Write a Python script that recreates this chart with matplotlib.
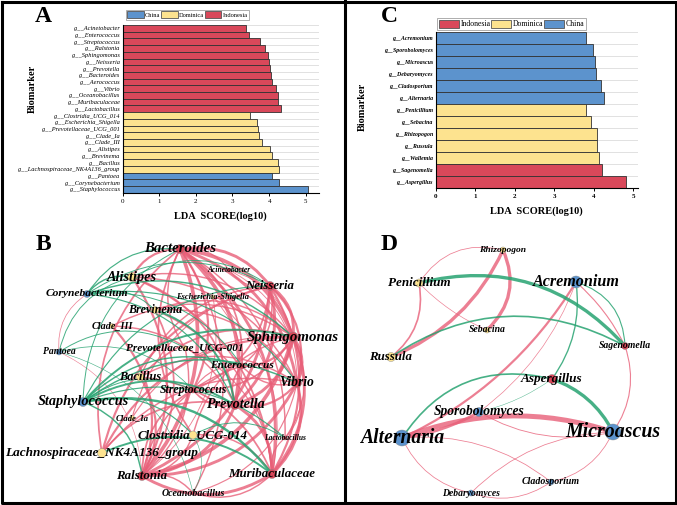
import matplotlib
matplotlib.use("Agg")
import numpy as np
import matplotlib.pyplot as plt
from matplotlib.patches import Patch, FancyArrowPatch
from matplotlib.lines import Line2D

W, H = 677, 505
RED, YEL, BLUE = "#d9485a", "#fde38f", "#5c93cd"
POS, NEG = "#e85f78", "#27a371"
GROUP_COL = {"Indonesia": RED, "Dominica": YEL, "China": BLUE}
SERIF = "Liberation Serif"

# ── Panel A: bacterial LEfSe (top to bottom) ─────────────────────────
A_LABELS = ["Acinetobacter", "Enterococcus", "Streptococcus", "Ralstonia", "Sphingomonas",
            "Neisseria", "Prevotella", "Bacteroides", "Aerococcus", "Vibrio",
            "Oceanobacillus", "Muribaculaceae", "Lactobacillus",
            "Clostridia_UCG_014", "Escherichia_Shigella", "Prevotellaceae_UCG_001",
            "Clade_Ia", "Clade_III", "Alistipes", "Brevinema", "Bacillus",
            "Lachnospiraceae_NK4A136_group",
            "Pantoea", "Corynebacterium", "Staphylococcus"]
A_VALUES = [3.37, 3.46, 3.75, 3.89, 3.98, 3.99, 4.01, 4.05, 4.07, 4.19, 4.24, 4.25, 4.32,
            3.49, 3.68, 3.70, 3.72, 3.80, 4.02, 4.08, 4.25, 4.28,
            4.07, 4.28, 5.05]
A_GROUPS = ["Indonesia"] * 13 + ["Dominica"] * 9 + ["China"] * 3
A_LEGEND = ["China", "Dominica", "Indonesia"]

# ── Panel C: fungal LEfSe (top to bottom) ────────────────────────────
C_LABELS = ["Acremonium", "Sporobolomyces", "Microascus", "Debaryomyces", "Cladosporium",
            "Alternaria", "Penicillium", "Sebacina", "Rhizopogon", "Russula", "Wallemia",
            "Sagenomella", "Aspergillus"]
C_VALUES = [3.79, 3.97, 4.04, 4.06, 4.17, 4.25, 3.79, 3.94, 4.07, 4.09, 4.14, 4.20, 4.81]
C_GROUPS = ["China"] * 6 + ["Dominica"] * 5 + ["Indonesia"] * 2
C_LEGEND = ["Indonesia", "Dominica", "China"]

# ── Panel B: bacterial network (layout in figure pixels) ─────────────
B_NODES = ["Bacteroides", "Acinetobacter", "Neisseria", "Alistipes", "Corynebacterium",
           "Escherichia-Shigella", "Brevinema", "Clade_III", "Sphingomonas", "Pantoea",
           "Prevotellaceae_UCG-001", "Enterococcus", "Bacillus", "Vibrio", "Streptococcus",
           "Staphylococcus", "Prevotella", "Clade_Ia", "Clostridia_UCG-014", "Lactobacillus",
           "Lachnospiraceae_NK4A136_group", "Muribaculaceae", "Ralstonia", "Oceanobacillus"]
B_X = [180, 229, 270, 132, 87, 213, 155, 112, 293, 59, 185, 242, 140, 297, 193,
       83, 235, 132, 193, 285, 102, 272, 142, 193]
B_Y = [249, 270, 286, 277, 294, 297, 310, 326, 337, 352, 348, 366, 377, 383, 390,
       402, 405, 418, 435, 438, 453, 474, 476, 493]
B_GROUP = ["Indonesia", "Indonesia", "Indonesia", "Dominica", "China", "Dominica", "Dominica",
           "Dominica", "Indonesia", "China", "Dominica", "Indonesia", "Dominica", "Indonesia",
           "Indonesia", "China", "Indonesia", "Dominica", "Dominica", "Indonesia", "Dominica",
           "Indonesia", "Indonesia", "Indonesia"]
B_SIZE = [9, 4, 9, 9, 7, 4, 7, 5, 10, 6, 5, 6, 8, 9, 6, 9, 9, 5, 8, 4, 9, 9, 9, 4]
B_LABEL_W = [72, 43, 49, 50, 82, 73, 54, 41, 92, 33, 118, 64, 42, 35, 67, 91, 59, 33,
             110, 42, 193, 87, 51, 63]

B_POS = [("Bacteroides", "Neisseria", 2.0), ("Bacteroides", "Sphingomonas", 2.5),
         ("Bacteroides", "Vibrio", 2.0), ("Bacteroides", "Prevotella", 2.5),
         ("Bacteroides", "Muribaculaceae", 2.0), ("Bacteroides", "Ralstonia", 2.5),
         ("Bacteroides", "Streptococcus", 1.5), ("Bacteroides", "Enterococcus", 1.2),
         ("Bacteroides", "Acinetobacter", 0.8), ("Bacteroides", "Lactobacillus", 1.0),
         ("Bacteroides", "Oceanobacillus", 1.0),
         ("Neisseria", "Sphingomonas", 2.0), ("Neisseria", "Vibrio", 1.5),
         ("Neisseria", "Prevotella", 2.0), ("Neisseria", "Muribaculaceae", 1.5),
         ("Neisseria", "Ralstonia", 2.0), ("Neisseria", "Streptococcus", 1.2),
         ("Neisseria", "Enterococcus", 1.0), ("Neisseria", "Acinetobacter", 0.6),
         ("Sphingomonas", "Vibrio", 2.0), ("Sphingomonas", "Prevotella", 2.0),
         ("Sphingomonas", "Muribaculaceae", 2.0), ("Sphingomonas", "Ralstonia", 2.5),
         ("Sphingomonas", "Streptococcus", 1.2), ("Sphingomonas", "Enterococcus", 1.5),
         ("Sphingomonas", "Lactobacillus", 0.8),
         ("Vibrio", "Prevotella", 1.5), ("Vibrio", "Muribaculaceae", 2.0),
         ("Vibrio", "Ralstonia", 2.0), ("Vibrio", "Enterococcus", 1.0),
         ("Vibrio", "Lactobacillus", 0.8), ("Vibrio", "Oceanobacillus", 0.8),
         ("Prevotella", "Muribaculaceae", 2.0), ("Prevotella", "Ralstonia", 2.0),
         ("Prevotella", "Streptococcus", 1.2), ("Prevotella", "Enterococcus", 1.2),
         ("Muribaculaceae", "Ralstonia", 2.0), ("Muribaculaceae", "Oceanobacillus", 1.0),
         ("Muribaculaceae", "Lactobacillus", 0.8), ("Ralstonia", "Oceanobacillus", 1.0),
         ("Ralstonia", "Streptococcus", 1.2), ("Ralstonia", "Enterococcus", 1.0),
         ("Streptococcus", "Enterococcus", 0.8), ("Acinetobacter", "Sphingomonas", 0.6),
         ("Acinetobacter", "Vibrio", 0.6),
         ("Alistipes", "Bacteroides", 1.5), ("Alistipes", "Ralstonia", 1.5),
         ("Alistipes", "Muribaculaceae", 1.2), ("Alistipes", "Prevotella", 1.2),
         ("Alistipes", "Sphingomonas", 1.0), ("Alistipes", "Vibrio", 1.0),
         ("Brevinema", "Ralstonia", 1.2), ("Brevinema", "Muribaculaceae", 1.0),
         ("Brevinema", "Sphingomonas", 1.0), ("Brevinema", "Vibrio", 1.0),
         ("Clade_III", "Ralstonia", 1.5), ("Clade_III", "Prevotella", 1.0),
         ("Clade_III", "Sphingomonas", 1.0),
         ("Bacillus", "Ralstonia", 1.5), ("Bacillus", "Muribaculaceae", 1.2),
         ("Bacillus", "Vibrio", 1.0), ("Bacillus", "Neisseria", 1.0),
         ("Bacillus", "Sphingomonas", 1.2),
         ("Lachnospiraceae_NK4A136_group", "Neisseria", 1.5),
         ("Lachnospiraceae_NK4A136_group", "Sphingomonas", 1.5),
         ("Lachnospiraceae_NK4A136_group", "Bacteroides", 1.2),
         ("Lachnospiraceae_NK4A136_group", "Vibrio", 1.0),
         ("Lachnospiraceae_NK4A136_group", "Prevotella", 1.2),
         ("Clostridia_UCG-014", "Bacteroides", 1.2), ("Clostridia_UCG-014", "Sphingomonas", 1.0),
         ("Clostridia_UCG-014", "Ralstonia", 1.0), ("Clostridia_UCG-014", "Muribaculaceae", 1.0),
         ("Prevotellaceae_UCG-001", "Ralstonia", 1.0), ("Prevotellaceae_UCG-001", "Bacteroides", 1.0),
         ("Prevotellaceae_UCG-001", "Muribaculaceae", 0.8),
         ("Clade_Ia", "Sphingomonas", 0.8), ("Clade_Ia", "Neisseria", 0.8),
         ("Escherichia-Shigella", "Ralstonia", 0.6), ("Escherichia-Shigella", "Muribaculaceae", 0.6),
         ("Escherichia-Shigella", "Prevotella", 0.6),
         ("Pantoea", "Corynebacterium", 0.5), ("Pantoea", "Ralstonia", 0.4)]
B_NEG = [("Staphylococcus", "Sphingomonas", 2.0), ("Staphylococcus", "Vibrio", 1.5),
         ("Staphylococcus", "Prevotella", 2.0), ("Staphylococcus", "Muribaculaceae", 2.5),
         ("Staphylococcus", "Enterococcus", 1.5), ("Staphylococcus", "Lactobacillus", 1.2),
         ("Staphylococcus", "Ralstonia", 1.5), ("Staphylococcus", "Neisseria", 1.2),
         ("Staphylococcus", "Bacteroides", 1.0), ("Staphylococcus", "Clostridia_UCG-014", 1.2),
         ("Staphylococcus", "Streptococcus", 1.0),
         ("Corynebacterium", "Alistipes", 1.5), ("Corynebacterium", "Brevinema", 1.0),
         ("Corynebacterium", "Sphingomonas", 1.5), ("Corynebacterium", "Vibrio", 1.2),
         ("Corynebacterium", "Prevotella", 1.2), ("Corynebacterium", "Enterococcus", 1.0),
         ("Corynebacterium", "Neisseria", 1.0), ("Corynebacterium", "Bacteroides", 1.2),
         ("Pantoea", "Alistipes", 1.0), ("Pantoea", "Prevotellaceae_UCG-001", 1.0),
         ("Pantoea", "Oceanobacillus", 0.6), ("Pantoea", "Streptococcus", 0.8),
         ("Brevinema", "Prevotella", 2.0), ("Lachnospiraceae_NK4A136_group", "Muribaculaceae", 2.0),
         ("Clostridia_UCG-014", "Lactobacillus", 1.0), ("Alistipes", "Neisseria", 1.0),
         ("Clostridia_UCG-014", "Oceanobacillus", 0.6)]

# ── Panel D: fungal network (layout in figure pixels) ────────────────
D_NODES = ["Rhizopogon", "Penicillium", "Acremonium", "Sebacina", "Sagenomella", "Russula",
           "Aspergillus", "Sporobolomyces", "Alternaria", "Microascus", "Cladosporium",
           "Debaryomyces"]
D_X = [503, 419, 576, 487, 625, 391, 552, 479, 402, 613, 551, 471]
D_Y = [250, 283, 282, 330, 346, 357, 379, 412, 438, 432, 482, 493]
D_GROUP = ["Dominica", "Dominica", "China", "Dominica", "Indonesia", "Dominica",
           "Indonesia", "China", "China", "China", "China", "China"]
D_SIZE = [6, 8, 12, 6, 7, 9, 9, 9, 16, 16, 6, 6]
D_LABEL_W = [47, 63, 87, 37, 52, 43, 62, 91, 84, 95, 58, 58]

D_POS = [("Russula", "Rhizopogon", 3.0, 0.2), ("Sebacina", "Rhizopogon", 3.0, 0.35),
         ("Rhizopogon", "Penicillium", 0.7, 0.35), ("Russula", "Penicillium", 1.5, 0.3),
         ("Penicillium", "Sebacina", 0.6, 0.1), ("Sagenomella", "Acremonium", 1.0, 0.1),
         ("Microascus", "Sagenomella", 1.0, 0.25), ("Alternaria", "Acremonium", 2.0, 0.15),
         ("Sporobolomyces", "Acremonium", 0.6, 0.15), ("Microascus", "Alternaria", 4.5, 0.18),
         ("Alternaria", "Sporobolomyces", 2.5, 0.1), ("Sporobolomyces", "Microascus", 0.8, 0.2),
         ("Cladosporium", "Alternaria", 0.7, 0.2), ("Alternaria", "Debaryomyces", 0.7, 0.25),
         ("Microascus", "Debaryomyces", 0.7, 0.2), ("Cladosporium", "Microascus", 0.7, 0.25),
         ("Debaryomyces", "Cladosporium", 0.7, 0.25)]
D_NEG = [("Sagenomella", "Penicillium", 3.0, 0.3), ("Sagenomella", "Russula", 1.5, 0.3),
         ("Sagenomella", "Acremonium", 1.0, 0.35), ("Aspergillus", "Acremonium", 1.2, 0.2),
         ("Aspergillus", "Alternaria", 1.5, 0.35), ("Microascus", "Aspergillus", 3.0, 0.2),
         ("Sporobolomyces", "Aspergillus", 0.4, 0.1)]


def px_rect(x0, y0, x1, y1):
    return [x0 / W, 1 - y1 / H, (x1 - x0) / W, (y1 - y0) / H]


def lefse(ax, labels, values, groups, xmax, fs, bold_ticks):
    n = len(labels)
    ypos = np.arange(n)[::-1]
    ax.barh(ypos, values, height=1.0, color=[GROUP_COL[g] for g in groups],
            edgecolor="#333333", linewidth=0.6, zorder=2)
    ax.set_xlim(0, xmax)
    ax.set_ylim(-0.5, n - 0.5)
    ax.set_yticks(ypos)
    ax.set_yticklabels(["g__" + l for l in labels], fontsize=fs, family=SERIF,
                       style="italic", weight="bold" if bold_ticks else "normal")
    ax.set_yticks(np.arange(-0.5, n, 1), minor=True)
    ax.grid(which="minor", axis="y", color="#dcdcdc", lw=0.6)
    ax.set_axisbelow(True)
    ax.tick_params(axis="y", which="both", length=0, pad=2)
    ax.set_xticks(range(6))
    ax.tick_params(axis="x", length=2.5, width=0.7, pad=2, labelsize=5)
    for t in ax.get_xticklabels():
        t.set_family(SERIF)
        t.set_weight("bold" if bold_ticks else "normal")
    for s in ["top", "right"]:
        ax.spines[s].set_visible(False)
    for s in ["left", "bottom"]:
        ax.spines[s].set_linewidth(0.8)
    ax.set_xlabel("LDA  SCORE(log10)", family=SERIF, weight="bold", fontsize=7.5, labelpad=5)


def network(ax, names, xs, ys, groups, sizes, pos, neg, pos_scale, neg_scale, default_rad=None):
    idx = {n: i for i, n in enumerate(names)}
    for edges, col, alpha, sc in [(pos, POS, 0.8, pos_scale), (neg, NEG, 0.85, neg_scale)]:
        for e in edges:
            a, b, w = idx[e[0]], idx[e[1]], e[2]
            rad = e[3] if len(e) > 3 else default_rad
            ax.add_patch(FancyArrowPatch((xs[a], ys[a]), (xs[b], ys[b]),
                                         connectionstyle=f"arc3,rad={rad}", arrowstyle="-",
                                         lw=w * sc, color=col, alpha=alpha,
                                         shrinkA=0, shrinkB=0, zorder=1))
    ax.scatter(xs, ys, s=[(d * 0.72) ** 2 for d in sizes],
               c=[GROUP_COL[g] for g in groups], edgecolors="#888888", linewidths=0.3, zorder=3)
    texts = []
    for i, n in enumerate(names):
        texts.append(ax.text(xs[i], ys[i], n, ha="center", va="center", fontsize=10,
                             family=SERIF, weight="bold", style="italic", zorder=4))
    return texts


fig = plt.figure(figsize=(W / 100, H / 100), dpi=100)

axA = fig.add_axes(px_rect(122.5, 25, 319, 192.7))
lefse(axA, A_LABELS, A_VALUES, A_GROUPS, 5.36, 4.6, False)
axA.set_ylabel("Biomarker", family=SERIF, weight="bold", fontsize=7.5)
axA.yaxis.set_label_coords(-0.435, 0.62)

axC = fig.add_axes(px_rect(435.7, 31.7, 637.7, 187.7))
lefse(axC, C_LABELS, C_VALUES, C_GROUPS, 5.11, 4.2, True)
axC.set_ylabel("Biomarker", family=SERIF, weight="bold", fontsize=7.5)
axC.yaxis.set_label_coords(-0.34, 0.52)

for names, x0, y0, fs in [(A_LEGEND, 126, 10, 4.6), (C_LEGEND, 437, 18, 5.6)]:
    handles = [Patch(facecolor=GROUP_COL[g], edgecolor="#555555", lw=0.6) for g in names]
    leg = fig.legend(handles, names, loc="upper left", bbox_to_anchor=(x0 / W, 1 - y0 / H),
                     ncol=3, prop={"family": SERIF, "size": fs},
                     handlelength=2.6, handleheight=1.3, handletextpad=0.2,
                     columnspacing=0.1, borderpad=0.2, borderaxespad=0, frameon=True,
                     fancybox=False, edgecolor="#888888")
    leg.get_frame().set_linewidth(0.6)

axB = fig.add_axes(px_rect(4, 222, 343, 501))
axB.set_xlim(4, 343)
axB.set_ylim(501, 222)
axB.axis("off")
tb = network(axB, B_NODES, B_X, B_Y, B_GROUP, B_SIZE, B_POS, B_NEG, 1.05, 0.7, -0.3)

axD = fig.add_axes(px_rect(347, 222, 674, 501))
axD.set_xlim(347, 674)
axD.set_ylim(501, 222)
axD.axis("off")
td = network(axD, D_NODES, D_X, D_Y, D_GROUP, D_SIZE, D_POS, D_NEG, 0.8, 0.8)

# scale each network label to its measured width
renderer = fig.canvas.get_renderer()
for texts, widths in [(tb, B_LABEL_W), (td, D_LABEL_W)]:
    for t, wpx in zip(texts, widths):
        cur = t.get_window_extent(renderer).width
        t.set_fontsize(10 * wpx / cur)

for lab, x, y in [("A", 43, 16), ("C", 389, 16), ("B", 43, 244), ("D", 389, 244)]:
    fig.text(x / W, 1 - y / H, lab, ha="center", va="center", family=SERIF,
             weight="bold", fontsize=17)

# panel frames
frame = fig.add_axes([0, 0, 1, 1], zorder=10)
frame.set_xlim(0, W)
frame.set_ylim(H, 0)
frame.axis("off")
frame.patch.set_alpha(0)
for xs, ys, lw in [([1.5, 675.5, 675.5, 1.5, 1.5], [1.5, 1.5, 503, 503, 1.5], 2.2),
                   ([345, 345], [0, 505], 2.2)]:
    frame.add_line(Line2D(xs, ys, color="black", lw=lw))

fig.savefig("out.png", dpi=100)
